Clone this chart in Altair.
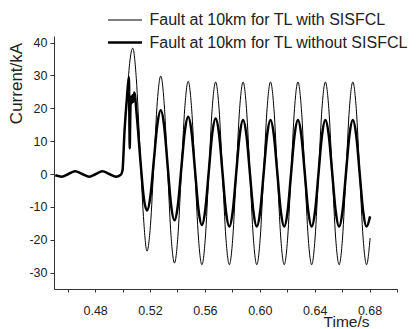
import altair as alt
import pandas as pd

series_names = ["Fault at 10km for TL with SISFCL", "Fault at 10km for TL without SISFCL"]

# pre-fault (both series identical)
time_pre = [0.4510, 0.4557, 0.4605, 0.4654, 0.4706, 0.4757, 0.4805, 0.4853, 0.4903, 0.4953, 0.4985]
current_pre = [-0.4, -0.8, 0.0, 0.8, 0.0, -0.8, 0.0, 0.8, 0.0, -0.8, -0.3]

# transient right after the fault
time_thin_tr = [0.4999, 0.5014, 0.5032, 0.5051, 0.5074, 0.5100, 0.5126, 0.5152]
current_thin_tr = [1.0, 13.0, 23.4, 33.6, 38.3, 29.0, 8.0, -13.0]

time_thick_tr = [0.4999, 0.5014, 0.5032, 0.5046, 0.5049, 0.5052, 0.5056, 0.5060, 0.5066,
                 0.5072, 0.5078, 0.5085, 0.5105, 0.5130, 0.5155]
current_thick_tr = [1.0, 13.0, 23.4, 29.5, 19.0, 7.8, 18.0, 23.5, 21.5,
                    24.0, 22.0, 24.8, 17.0, 4.0, -7.5]

# fault cycles
time_cycles = [
    0.5178, 0.5203, 0.5228, 0.5253, 0.5278, 0.5303, 0.5328, 0.5353,
    0.5378, 0.5403, 0.5428, 0.5453, 0.5478, 0.5503, 0.5528, 0.5553,
    0.5578, 0.5603, 0.5628, 0.5653, 0.5678, 0.5703, 0.5728, 0.5753,
    0.5778, 0.5803, 0.5828, 0.5853, 0.5878, 0.5903, 0.5928, 0.5953,
    0.5978, 0.6003, 0.6028, 0.6053, 0.6078, 0.6103, 0.6128, 0.6153,
    0.6178, 0.6203, 0.6228, 0.6253, 0.6278, 0.6303, 0.6328, 0.6353,
    0.6378, 0.6403, 0.6428, 0.6453, 0.6478, 0.6503, 0.6528, 0.6553,
    0.6578, 0.6603, 0.6628, 0.6653, 0.6678, 0.6703, 0.6728, 0.6753,
    0.6778, 0.6804,
]
current_thin_cycles = [
    -23.5, -15.6, 3.2, 22.0, 29.8, 21.5, 1.3, -18.8,
    -27.1, -19.0, 0.5, 20.0, 28.2, 20.0, 0.3, -19.5,
    -27.6, -19.5, 0.2, 19.9, 28.0, 19.9, 0.2, -19.5,
    -27.6, -19.5, 0.2, 19.9, 28.0, 19.9, 0.2, -19.5,
    -27.6, -19.5, 0.2, 19.9, 28.0, 19.9, 0.2, -19.5,
    -27.6, -19.5, 0.2, 19.9, 28.0, 19.9, 0.2, -19.5,
    -27.6, -19.5, 0.2, 19.9, 28.0, 19.9, 0.2, -19.5,
    -27.6, -19.5, 0.2, 19.9, 28.0, 19.9, 0.2, -19.5,
    -27.6, -19.5,
]
current_thick_cycles = [
    -11.1, -6.7, 4.2, 15.0, 19.4, 14.6, 2.7, -9.3,
    -14.1, -9.5, 1.7, 12.8, 17.4, 12.7, 1.0, -10.8,
    -15.5, -10.8, 0.7, 12.2, 16.9, 12.2, 0.5, -11.3,
    -16.0, -11.3, 0.2, 11.7, 16.4, 11.7, 0.2, -11.3,
    -16.0, -11.3, 0.2, 11.7, 16.4, 11.7, 0.2, -11.3,
    -16.0, -11.3, 0.2, 11.7, 16.4, 11.7, 0.2, -11.3,
    -16.0, -11.3, 0.2, 11.7, 16.4, 11.7, 0.2, -11.3,
    -16.0, -11.3, 0.2, 11.7, 16.4, 11.7, 0.2, -11.3,
    -16.0, -12.9,
]

x_ticks = [0.46, 0.48, 0.50, 0.52, 0.54, 0.56, 0.58, 0.60, 0.62, 0.64, 0.66, 0.68, 0.70]
y_ticks = [-30, -20, -10, 0, 10, 20, 30, 40]

FONT = "Liberation Sans"
TXT = "#222222"

thin_df = pd.DataFrame({
    "time": time_pre + time_thin_tr + time_cycles,
    "current": current_pre + current_thin_tr + current_thin_cycles,
    "series": series_names[0],
})
thick_df = pd.DataFrame({
    "time": time_pre + time_thick_tr + time_cycles,
    "current": current_pre + current_thick_tr + current_thick_cycles,
    "series": series_names[1],
})

x_enc = alt.X(
    "time:Q",
    scale=alt.Scale(domain=[0.45, 0.70], nice=False, zero=False),
    axis=alt.Axis(
        values=x_ticks,
        labelExpr="round(datum.value*100) % 4 == 0 ? format(datum.value, '.2f') : ''",
        title="Time/s", titleX=315, titleY=37, titleAlign="right", titleBaseline="alphabetic",
        titleFont=FONT, titleFontSize=15.5, titleFontWeight="normal", titleColor=TXT,
        labelFont=FONT, labelFontSize=12.5, labelColor=TXT, labelPadding=12,
        tickSize=3, grid=False, domainColor="#333333", tickColor="#333333",
        labelOverlap=False, labelFlush=False,
    ),
)
y_enc = alt.Y(
    "current:Q",
    scale=alt.Scale(domain=[-35, 42], nice=False, zero=False),
    axis=alt.Axis(
        values=y_ticks, labelExpr="'' + datum.value",
        title="Current/kA", titleX=-38, titleY=47, titleAngle=270, titleAlign="center",
        titleBaseline="middle",
        titleFont=FONT, titleFontSize=17, titleFontWeight="normal", titleColor=TXT,
        labelFont=FONT, labelFontSize=12.5, labelColor=TXT, labelPadding=3,
        tickSize=4, grid=False, domainColor="#333333", tickColor="#333333",
        labelOverlap=False, labelFlush=False,
    ),
)

thin = alt.Chart(thin_df).mark_line(interpolate="monotone", color="black", strokeWidth=1).encode(
    x=x_enc, y=y_enc, order="time:Q")
thick = alt.Chart(thick_df).mark_line(interpolate="monotone", color="black", strokeWidth=2.5).encode(
    x=x_enc, y=y_enc, order="time:Q")

leg1 = pd.DataFrame({"series": [series_names[0]]})
leg2 = pd.DataFrame({"series": [series_names[1]]})

leg_rule1 = alt.Chart(leg1).mark_rule(color="black", strokeWidth=1).encode(
    x=alt.value(54), x2=alt.value(88), y=alt.value(-16))
leg_rule2 = alt.Chart(leg2).mark_rule(color="black", strokeWidth=2.5).encode(
    x=alt.value(54), x2=alt.value(88), y=alt.value(6.5))
leg_text1 = alt.Chart(leg1).mark_text(align="left", baseline="middle", font=FONT, fontSize=16, color=TXT).encode(
    x=alt.value(95.5), y=alt.value(-16), text="series:N")
leg_text2 = alt.Chart(leg2).mark_text(align="left", baseline="middle", font=FONT, fontSize=16, color=TXT).encode(
    x=alt.value(95.5), y=alt.value(6.5), text="series:N")

chart = alt.layer(thin, thick, leg_rule1, leg_rule2, leg_text1, leg_text2).properties(
    width=343, height=253,
    autosize=alt.AutoSizeParams(type="none"),
    padding={"left": 46, "top": 28, "right": 14, "bottom": 40},
    background="white",
).configure_view(stroke=None).configure_axis(labelOverlap=False)

chart.save("out.html", embed_options={"renderer": "svg", "actions": False})
